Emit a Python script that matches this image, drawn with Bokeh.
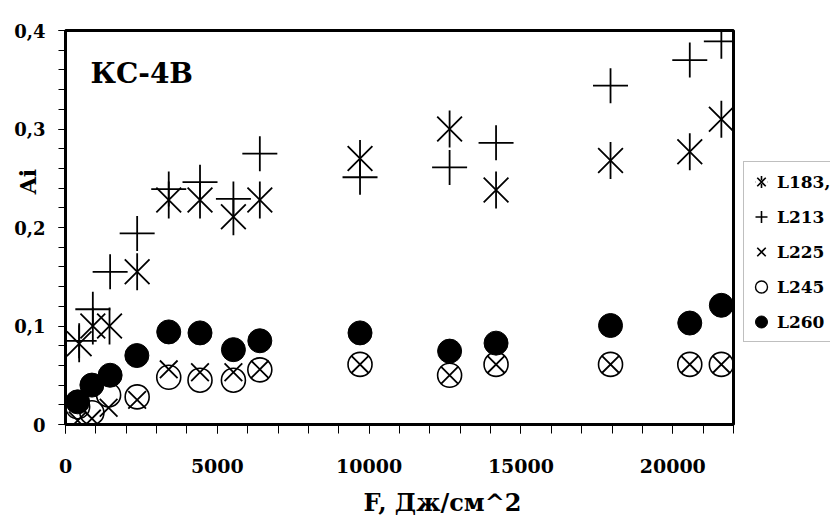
import math
from bokeh.plotting import figure
from bokeh.layouts import row
from bokeh.models import (Range1d, FixedTicker, CustomJSTickFormatter, Label,
                          Legend, LegendItem, Title)
from bokeh.embed import file_html
from bokeh.resources import INLINE

# ---- data ----
F_183 = [450, 900, 1450, 2360, 3400, 4430, 5530, 6400, 9700, 12650, 14180, 17950, 20560, 21600]
A_183 = [0.082, 0.100, 0.100, 0.155, 0.228, 0.228, 0.211, 0.228, 0.270, 0.300, 0.238, 0.268, 0.277, 0.310]

F_213 = [450, 900, 1470, 2360, 3400, 4430, 5530, 6400, 9700, 12650, 14180, 17950, 20560, 21600]
A_213 = [0.085, 0.117, 0.155, 0.194, 0.239, 0.246, 0.229, 0.275, 0.251, 0.261, 0.286, 0.344, 0.370, 0.389]

F_225 = [400, 870, 1420, 2360, 3400, 4430, 5530, 6400, 9700, 12650, 14180, 17950, 20560, 21600]
A_225 = [0.004, 0.006, 0.017, 0.025, 0.056, 0.053, 0.053, 0.056, 0.061, 0.050, 0.061, 0.061, 0.061, 0.061]

F_245 = [400, 870, 1420, 2360, 3400, 4430, 5530, 6400, 9700, 12650, 14180, 17950, 20560, 21600]
A_245 = [0.018, 0.012, 0.030, 0.028, 0.048, 0.045, 0.045, 0.0555, 0.061, 0.050, 0.061, 0.061, 0.061, 0.061]

F_260 = [400, 870, 1470, 2350, 3400, 4430, 5530, 6400, 9700, 12650, 14180, 17950, 20560, 21600]
A_260 = [0.023, 0.040, 0.050, 0.070, 0.094, 0.093, 0.076, 0.085, 0.093, 0.0745, 0.0826, 0.1005, 0.103, 0.121]

series_names = ["L183,5", "L213", "L225", "L245", "L260"]
x_major = [0, 5000, 10000, 15000, 20000]
x_minor = list(range(0, 22001, 1000))
y_major = [0, 0.1, 0.2, 0.3, 0.4]
y_minor = [round(0.02 * i, 2) for i in range(21)]

FONT = "DejaVu Serif"

p = figure(width=742, height=529, output_backend="svg", toolbar_location=None,
           x_range=Range1d(0, 22000), y_range=Range1d(0, 0.4),
           min_border_left=65, min_border_right=9, min_border_top=30, min_border_bottom=105)
p.background_fill_color = "white"
p.border_fill_color = "white"
p.outline_line_color = "black"
p.outline_line_width = 3
p.xgrid.visible = False
p.ygrid.visible = False

# axes
p.xaxis.ticker = FixedTicker(ticks=x_major, minor_ticks=x_minor)
p.yaxis.ticker = FixedTicker(ticks=y_major, minor_ticks=y_minor)
p.yaxis.formatter = CustomJSTickFormatter(
    code="return tick == 0 ? '0' : tick.toFixed(1).replace('.', ',');")
for ax in (p.xaxis, p.yaxis):
    ax.axis_line_width = 3
    ax.axis_line_color = "black"
    ax.major_tick_line_color = "black"
    ax.minor_tick_line_color = "black"
    ax.major_tick_line_width = 1
    ax.minor_tick_line_width = 1
    ax.major_tick_in = 0
    ax.minor_tick_in = 0
    ax.major_label_text_font = FONT
    ax.major_label_text_font_style = "bold"
    ax.major_label_text_color = "black"
p.xaxis.major_tick_out = 9
p.xaxis.minor_tick_out = 9
p.xaxis.major_label_standoff = 25
p.xaxis.major_label_text_font_size = "19px"
p.yaxis.major_tick_out = 7
p.yaxis.minor_tick_out = 7
p.yaxis.major_label_standoff = 13
p.yaxis.major_label_text_font_size = "18px"

# y title (non-breaking spaces push it up the axis, as in the reference)
p.yaxis.axis_label = "\u00a0" * 12 + "Ai"
p.yaxis.axis_label_text_font = FONT
p.yaxis.axis_label_text_font_style = "bold"
p.yaxis.axis_label_text_font_size = "22px"
p.yaxis.axis_label_text_color = "black"
p.yaxis.axis_label_standoff = -30

p.add_layout(Title(text="F, Дж/см^2", align="left", offset=298,
                   text_font=FONT, text_font_style="bold", text_font_size="24px",
                   text_color="black", standoff=20), "below")

# series in the plot
p.scatter(F_183, A_183, marker="x", size=35, line_color="black", line_width=1.8)
p.scatter(F_183, A_183, marker="dash", size=37, angle=math.pi / 2,
          line_color="black", line_width=1.8)
p.scatter(F_213, A_213, marker="cross", size=35, line_color="black", line_width=1.8)
p.scatter(F_225, A_225, marker="x", size=25, line_color="black", line_width=1.8)
p.scatter(F_245, A_245, marker="circle", size=24, line_color="black",
          fill_alpha=0, line_width=1.6)
p.scatter(F_260, A_260, marker="circle", size=24, line_color="black", fill_color="black")

p.add_layout(Label(x=25, y=351, x_units="screen", y_units="screen", text="КС-4В",
                   text_font=FONT, text_font_style="bold", text_font_size="28px",
                   text_color="black", text_align="left", text_baseline="alphabetic"))

# legend panel (cut at the window edge like the reference); its ranges keep the
# series out of view so that only the legend glyphs show
q = figure(width=88, height=529, output_backend="svg", toolbar_location=None,
           x_range=Range1d(-2, -1), y_range=Range1d(-2, -1),
           x_axis_location=None, y_axis_location=None, min_border=0)
q.outline_line_color = None
q.xgrid.visible = False
q.ygrid.visible = False
q.background_fill_color = "white"
q.border_fill_color = "white"

# star glyph of the legend: a cross whose horizontal arm is masked, plus an x
l_a1 = q.scatter(F_183, A_183, marker="cross", size=35, line_color="black", line_width=1.6)
l_a2 = q.scatter(F_183, A_183, marker="dash", size=35, line_color="white", line_width=3.5)
l_a3 = q.scatter(F_183, A_183, marker="x", size=35, line_color="black", line_width=1.6)
l_b = q.scatter(F_213, A_213, marker="cross", size=35, line_color="black", line_width=1.6)
l_c = q.scatter(F_225, A_225, marker="x", size=35, line_color="black", line_width=1.6)
l_d = q.scatter(F_245, A_245, marker="circle", size=35, line_color="black",
                fill_alpha=0, line_width=1.4)
l_e = q.scatter(F_260, A_260, marker="circle", size=35, line_color="black", fill_color="black")

legend = Legend(items=[
    LegendItem(label=series_names[0], renderers=[l_a1, l_a2, l_a3]),
    LegendItem(label=series_names[1], renderers=[l_b]),
    LegendItem(label=series_names[2], renderers=[l_c]),
    LegendItem(label=series_names[3], renderers=[l_d]),
    LegendItem(label=series_names[4], renderers=[l_e]),
], location=(1, 82))
legend.border_line_color = "#808080"
legend.border_line_width = 1
legend.background_fill_color = "white"
legend.background_fill_alpha = 1
legend.label_text_font = FONT
legend.label_text_font_style = "bold"
legend.label_text_font_size = "17px"
legend.label_text_color = "black"
legend.glyph_width = 30
legend.glyph_height = 35
legend.label_height = 35
legend.spacing = 0
legend.padding = 2
legend.label_standoff = 1
legend.margin = 0
q.add_layout(legend)

open("out.html", "w").write(file_html(row(p, q), INLINE))
